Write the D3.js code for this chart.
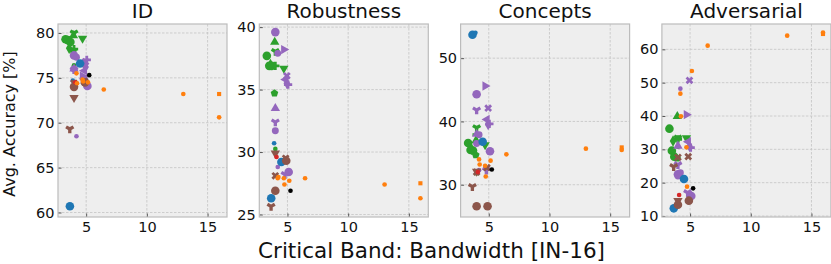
<!DOCTYPE html>
<meta charset="utf-8">
<title>Critical band vs accuracy</title>
<style>
  body { margin: 0; background: #fff; }
  text { font-family: "DejaVu Sans", sans-serif; fill: #111; }
  .grid line { stroke: #c4c4c4; stroke-width: 0.8px; stroke-dasharray: 2.5, 1.5; }
  .tick line { stroke: #333; stroke-width: 0.8px; }
  .tick text { font-size: 14px; }
</style>
<body>
<script src="https://d3js.org/d3.v7.min.js"></script>
<script>
  var width = 831,
    height = 264;

  // one entry per model: family (colour), marker, marker size class, bandwidth
  var family = ["g","g","g","g","g","g","g","g","g","g",
    "p","p","p","p","p","p","p","p","p","p","p","p","p",
    "b","b","b",
    "br","br","br","br","br","br",
    "r","k",
    "o","o","o","o","o","o","o","o","o"];
  var marker = ["o","o","o","Y","v","^","P","D","p","o",
    "o","o",">","X","D","<","^","Y","o","o","o","Y","P",
    "o","o","o",
    "X","X","Y","o","o","v",
    "o","o",
    "o","o","o","o","o","o","o","s","o"];
  var msize = ["l","l","l","m","m","m","m","m","m","s",
    "l","m","m","m","m","m","m","m","m","s","l","m","m",
    "l","l","s",
    "m","m","m","l","l","m",
    "s","s",
    "s","s","s","s","s","s","s","s","s"];
  var bandwidth = [3.3,3.5,3.7,4.0,4.7,3.95,4.0,3.6,3.93,4.0,
    4.0,4.2,4.7,4.95,4.95,4.85,4.0,4.0,4.0,4.2,5.1,4.8,5.05,
    3.66,4.5,3.9,
    4.85,4.0,3.65,4.0,4.9,4.0,
    4.1,5.25,
    4.2,4.25,4.7,4.75,5.15,6.45,13.0,15.95,15.95];

  // average accuracy per benchmark
  var accID = [79.3,79.2,79.0,80.0,79.4,79.7,78.2,78.3,78.0,76.4,
    77.5,77.3,75.2,76.8,76.2,75.8,76.0,75.9,76.0,68.5,74.1,74.8,77.0,
    60.7,76.6,74.7,
    74.6,74.4,69.3,74.0,74.5,72.8,
    74.5,75.3,
    75.5,74.4,74.8,74.6,74.5,73.7,73.2,73.2,70.6];
  var accRob = [37.7,36.9,36.9,38.05,36.7,38.8,36.9,37.0,34.7,30.25,
    39.6,37.9,38.2,36.1,35.5,35.8,33.5,32.4,31.7,28.8,28.4,28.2,35.4,
    26.3,29.2,30.7,
    29.5,28.1,25.65,26.9,29.3,29.9,
    29.6,26.9,
    27.9,28.0,27.9,27.4,27.7,27.9,27.4,27.5,26.3];
  var accCon = [36.6,35.5,35.4,39.0,36.3,37.0,37.9,35.6,34.7,31.8,
    44.3,37.9,45.6,42.1,39.5,40.3,38.0,41.8,36.5,32.3,35.3,32.3,39.6,
    53.7,36.8,54.0,
    32.7,32.0,29.7,26.6,26.6,32.1,
    32.0,32.4,
    34.0,33.2,33.0,31.3,33.8,34.8,35.7,35.9,35.5];
  var accAdv = [36.2,29.6,27.8,33.4,33.4,39.9,33.0,32.5,27.3,30.8,
    22.5,23.0,40.4,50.7,30.9,32.3,31.0,25.4,22.0,48.2,16.0,17.0,30.5,
    12.3,21.1,13.5,
    27.8,27.6,24.8,13.4,14.6,14.6,
    16.3,18.3,
    46.7,39.9,30.6,18.8,53.5,61.1,64.1,64.6,65.0];

  var titles = ["ID", "Robustness", "Concepts", "Adversarial"];
  var series = [accID, accRob, accCon, accAdv];
  var yDomains = [[59.5, 81], [24.8, 40.25], [24.9, 55.4], [9.7, 67.6]];
  var yTicks = [[60, 65, 70, 75, 80], [25, 30, 35, 40], [30, 40, 50], [10, 20, 30, 40, 50, 60]];
  var xDomain = [2.68, 16.6];
  var xTicks = [5, 10, 15];

  var color = d3.scaleOrdinal()
    .domain(["b", "o", "g", "r", "p", "br", "k"])
    .range(["#1f77b4", "#ff7f0e", "#2ca02c", "#d62728", "#9467bd", "#8c564b", "#000000"]);
  var area = { s: 17, m: 38, l: 58 };

  // filled pentagon for the "p" marker
  var symbolPentagon = {
    draw: function(ctx, size) {
      var r = Math.sqrt(size / 2.378);
      for (var i = 0; i < 5; i++) {
        var a = -Math.PI / 2 + i * 2 * Math.PI / 5;
        if (i === 0) ctx.moveTo(r * Math.cos(a), r * Math.sin(a));
        else ctx.lineTo(r * Math.cos(a), r * Math.sin(a));
      }
      ctx.closePath();
    }
  };
  var shapes = {
    "o": [d3.symbolCircle, 0], "^": [d3.symbolTriangle, 0], ">": [d3.symbolTriangle, 90],
    "<": [d3.symbolTriangle, -90], "v": [d3.symbolTriangle, 180], "D": [d3.symbolDiamond, 0],
    "X": [d3.symbolCross, 45], "P": [d3.symbolCross, 0], "p": [symbolPentagon, 0],
    "Y": [d3.symbolWye, 0], "s": [d3.symbolSquare, 0]
  };

  var svg = d3.select("body").append("svg")
    .attr("width", width)
    .attr("height", height);

  var plotTop = 24, plotBottom = 217, panelW = 169, step = 201.3, left0 = 58;

  titles.forEach(function(title, k) {
    var x0 = left0 + k * step;
    var x = d3.scaleLinear().domain(xDomain).range([x0, x0 + panelW]);
    var y = d3.scaleLinear().domain(yDomains[k]).range([plotBottom, plotTop]);
    var g = svg.append("g");

    g.append("rect")
      .attr("x", x0).attr("y", plotTop)
      .attr("width", panelW).attr("height", plotBottom - plotTop)
      .attr("fill", "#eeeeee");

    var grid = g.append("g").attr("class", "grid");
    grid.selectAll(".gx").data(xTicks).enter().append("line")
      .attr("x1", d => x(d)).attr("x2", d => x(d))
      .attr("y1", plotTop).attr("y2", plotBottom);
    grid.selectAll(".gy").data(yTicks[k]).enter().append("line")
      .attr("x1", x0).attr("x2", x0 + panelW)
      .attr("y1", d => y(d)).attr("y2", d => y(d));

    var ax = g.append("g")
      .attr("transform", "translate(0," + plotBottom + ")")
      .call(d3.axisBottom(x).tickValues(xTicks).tickSize(-3.5).tickPadding(1));
    var ay = g.append("g")
      .attr("transform", "translate(" + x0 + ",0)")
      .call(d3.axisLeft(y).tickValues(yTicks[k]).tickSize(-3.5).tickPadding(3.5));
    ax.select(".domain").remove();
    ay.select(".domain").remove();
    ax.selectAll("text").attr("dy", "0.95em").style("font-size", "14.5px").attr("fill", "#111");
    ay.selectAll("text").style("font-size", "14.5px").attr("fill", "#111");

    var vals = series[k];
    g.selectAll(".pt").data(d3.range(vals.length)).enter().append("path")
      .attr("d", function(i) {
        return d3.symbol().type(shapes[marker[i]][0]).size(area[msize[i]])();
      })
      .attr("transform", function(i) {
        return "translate(" + x(bandwidth[i]) + "," + y(vals[i]) + ") rotate(" + shapes[marker[i]][1] + ")";
      })
      .attr("fill", i => color(family[i]));

    g.append("rect")
      .attr("x", x0).attr("y", plotTop)
      .attr("width", panelW).attr("height", plotBottom - plotTop)
      .attr("fill", "none")
      .attr("stroke", "#bcbcbc")
      .attr("stroke-width", 1.2);

    g.append("text")
      .attr("x", x0 + panelW / 2).attr("y", 17.5)
      .attr("text-anchor", "middle")
      .style("font-size", "20px")
      .text(title);
  });

  svg.append("text")
    .attr("transform", "translate(14.5,124) rotate(-90)")
    .attr("text-anchor", "middle")
    .style("font-size", "16px")
    .text("Avg. Accuracy [%]");

  svg.append("text")
    .attr("x", 431.5).attr("y", 257.5)
    .attr("text-anchor", "middle")
    .style("font-size", "21.5px")
    .text("Critical Band: Bandwidth [IN-16]");
</script>
</body>
</html>
